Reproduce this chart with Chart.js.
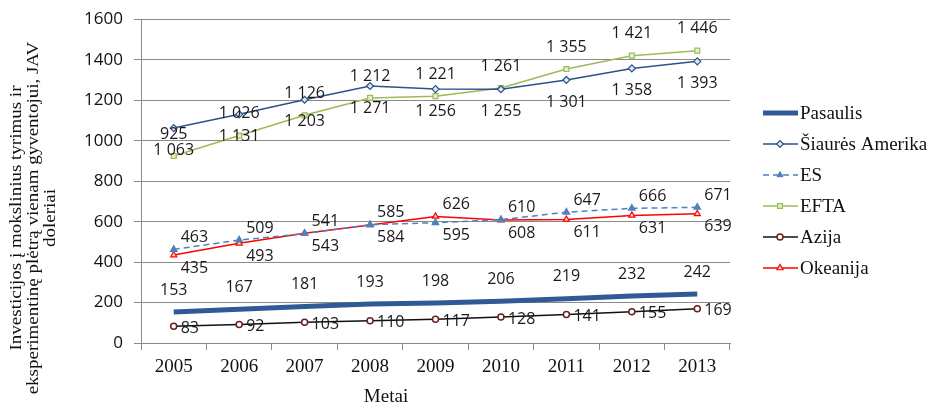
<!DOCTYPE html>
<html>
<head>
<meta charset="utf-8">
<script src="https://cdn.jsdelivr.net/npm/chart.js@4"></script>
<style>
  html, body { margin: 0; padding: 0; background: #fff; }
  #wrap { width: 950px; height: 413px; }
</style>
</head>
<body>
<div id="wrap"><canvas id="myChart" width="950" height="413"></canvas></div>
<script>
const years = ['2005', '2006', '2007', '2008', '2009', '2010', '2011', '2012', '2013'];
const pasaulis = [153, 167, 181, 193, 198, 206, 219, 232, 242];
const siauresAmerika = [1063, 1131, 1203, 1271, 1256, 1255, 1301, 1358, 1393];
const es = [463, 509, 541, 585, 595, 610, 647, 666, 671];
const efta = [925, 1026, 1126, 1212, 1221, 1261, 1355, 1421, 1446];
const azija = [83, 92, 103, 110, 117, 128, 141, 155, 169];
const okeanija = [435, 493, 543, 584, 626, 608, 611, 631, 639];
const yTicks = [0, 200, 400, 600, 800, 1000, 1200, 1400, 1600];

const yTitle = ['Investicijos į mokslinius tyrimus ir', 'eksperimentinę plėtrą vienam gyventojui, JAV', 'doleriai'];
const xTitle = 'Metai';

const serif = '"Liberation Serif", "Times New Roman", serif';
const sans = '"Open Sans", sans-serif';

// 1 063 style numbers
function fmt(v) {
    return String(v).replace(/\B(?=(\d{3})+(?!\d))/g, ' ');
}

const data = {
    labels: years,
    datasets: [{
        label: 'Pasaulis',
        data: pasaulis,
        borderColor: '#2f5a96',
        borderWidth: 5,
        pointRadius: 0,
        labelPos: 'above'
    }, {
        label: 'Šiaurės Amerika',
        data: siauresAmerika,
        borderColor: '#2c5288',
        backgroundColor: '#dfe6f0',
        borderWidth: 1.5,
        pointStyle: 'rectRot',
        pointRadius: 3.5,
        pointBorderWidth: 1.2,
        labelPos: 'below'
    }, {
        label: 'ES',
        data: es,
        borderColor: '#4f81bd',
        backgroundColor: '#4f81bd',
        borderWidth: 1.5,
        borderDash: [6, 4],
        pointStyle: 'triangle',
        pointRadius: 3.5,
        labelPos: 'pair',
        partner: okeanija,
        lead: true
    }, {
        label: 'EFTA',
        data: efta,
        borderColor: '#9bbb59',
        backgroundColor: '#e6efd2',
        borderWidth: 1.5,
        pointStyle: 'rect',
        pointRadius: 3.5,
        pointBorderWidth: 1.2,
        labelPos: 'above'
    }, {
        label: 'Azija',
        data: azija,
        borderColor: '#111111',
        backgroundColor: '#ffffff',
        pointBorderColor: '#6b1f1f',
        borderWidth: 1.5,
        pointStyle: 'circle',
        pointRadius: 3,
        pointBorderWidth: 1.5,
        labelPos: 'right'
    }, {
        label: 'Okeanija',
        data: okeanija,
        borderColor: '#ff0000',
        backgroundColor: '#ffd0d0',
        borderWidth: 1.5,
        pointStyle: 'triangle',
        pointRadius: 3.5,
        pointBorderWidth: 1.2,
        labelPos: 'pair',
        partner: es,
        lead: false
    }]
};

// the pair label goes on top for ES unless Okeanija is clearly higher
function onTop(ds, j) {
    const a = ds.lead ? ds.data[j] : ds.partner[j];
    const b = ds.lead ? ds.partner[j] : ds.data[j];
    const esTop = a + 10 >= b;
    return ds.lead ? esTop : !esTop;
}

// value labels, legend and axis titles
const extras = {
    id: 'extras',
    afterDatasetsDraw(chart) {
        const ctx = chart.ctx;
        ctx.save();
        ctx.font = '16px ' + sans;
        ctx.fillStyle = '#1a1a1a';
        ctx.textBaseline = 'middle';
        chart.data.datasets.forEach((ds, i) => {
            const meta = chart.getDatasetMeta(i);
            meta.data.forEach((pt, j) => {
                const v = ds.data[j];
                let x = pt.x, y = pt.y;
                ctx.textAlign = 'center';
                if (ds.labelPos === 'above') y -= 22;
                else if (ds.labelPos === 'below') y += 22;
                else if (ds.labelPos === 'right') { ctx.textAlign = 'left'; x += 7; y += 2; }
                else if (ds.labelPos === 'pair') {
                    ctx.textAlign = 'left';
                    x += 7;
                    y += onTop(ds, j) ? -12 : 13;
                }
                ctx.fillText(fmt(v), x, y);
            });
        });
        ctx.restore();
    },
    afterDraw(chart) {
        const ctx = chart.ctx;
        ctx.save();
        // legend
        ctx.font = '19px ' + serif;
        ctx.textBaseline = 'middle';
        ctx.textAlign = 'left';
        chart.data.datasets.forEach((ds, i) => {
            const y = 113 + i * 31;
            ctx.strokeStyle = ds.borderColor;
            ctx.lineWidth = ds.borderWidth;
            ctx.setLineDash(ds.borderDash || []);
            ctx.beginPath();
            ctx.moveTo(763, y);
            ctx.lineTo(798, y);
            ctx.stroke();
            ctx.setLineDash([]);
            if (ds.pointRadius) {
                ctx.fillStyle = ds.backgroundColor;
                ctx.strokeStyle = ds.pointBorderColor || ds.borderColor;
                ctx.lineWidth = ds.pointBorderWidth || 1;
                Chart.helpers.drawPoint(ctx, {
                    pointStyle: ds.pointStyle, radius: ds.pointRadius,
                    borderWidth: ds.pointBorderWidth || 1, rotation: 0
                }, 780, y);
            }
            ctx.fillStyle = '#111';
            ctx.fillText(ds.label, 800, y + 1);
        });
        // axis titles
        ctx.fillStyle = '#111';
        ctx.textAlign = 'center';
        ctx.font = '19px ' + serif;
        ctx.fillText(xTitle, 386, 397);
        ctx.translate(17, 218);
        ctx.rotate(-Math.PI / 2);
        ctx.scale(1, 0.85);
        ctx.font = '19px ' + serif;
        yTitle.forEach((line, k) => ctx.fillText(line, 0, k * 20));
        ctx.restore();
    }
};

const config = {
    type: 'line',
    data: data,
    options: {
        responsive: false,
        animation: false,
        layout: { padding: { top: 19, right: 220, left: 0, bottom: 0 } },
        plugins: {
            legend: { display: false },
            tooltip: { enabled: false }
        },
        scales: {
            x: {
                offset: true,
                grid: { drawOnChartArea: false, drawTicks: true, tickLength: 7, color: '#8a8a8a', offset: true },
                border: { color: '#8a8a8a' },
                ticks: { font: { family: serif, size: 19 }, color: '#111', padding: 6 },
                afterFit: s => { s.height = 70; }
            },
            y: {
                min: 0,
                max: 1600,
                afterBuildTicks: s => { s.ticks = yTicks.map(v => ({ value: v })); },
                grid: { color: '#8a8a8a', tickLength: 7 },
                border: { color: '#8a8a8a' },
                ticks: { font: { family: sans, size: 17, lineHeight: 1 }, color: '#111', padding: 11, callback: v => String(v) },
                afterFit: s => { s.width = 141; }
            }
        }
    },
    plugins: [extras]
};

const myChart = new Chart(document.getElementById('myChart'), config);
</script>
</body>
</html>
